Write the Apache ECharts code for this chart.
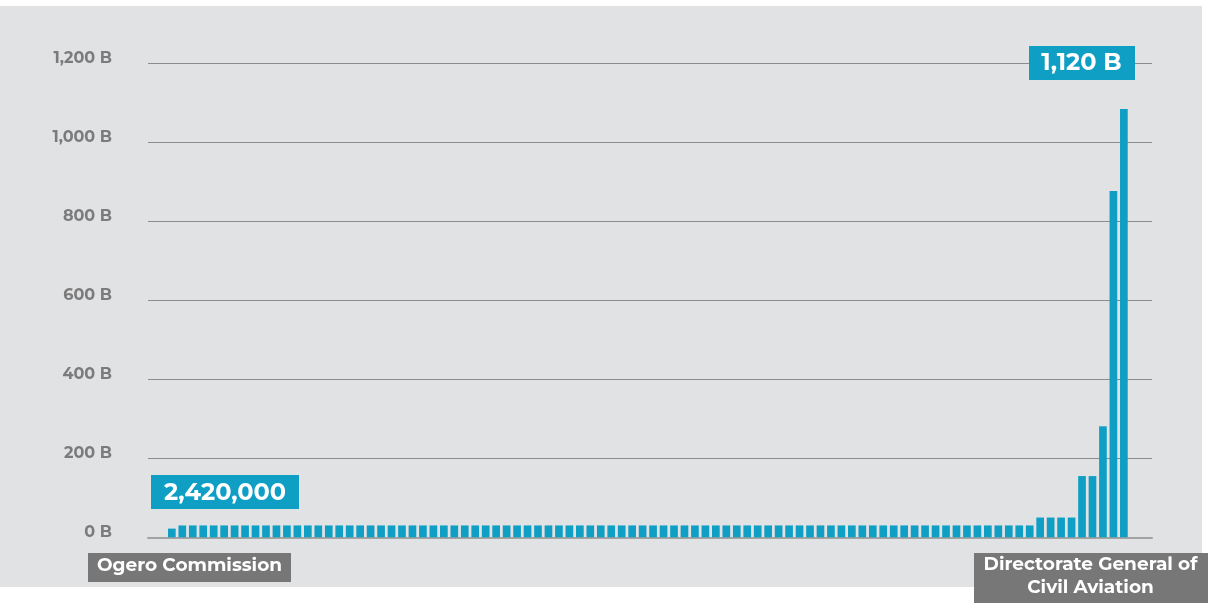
<!DOCTYPE html>
<html><head><meta charset="utf-8">
<script src="https://cdn.jsdelivr.net/npm/echarts@6/dist/echarts.min.js"></script>
<style>
html,body{margin:0;padding:0;background:#ffffff;}
#bg{position:absolute;left:0;top:6px;width:1202px;height:581px;background:#e1e2e4;}
#chart{position:absolute;left:0;top:0;width:1208px;height:603px;}
</style></head>
<body><div id="bg"></div><div id="chart"></div>
<script>
// ---- data ----
const firstEntity = 'Ogero Commission';
const lastEntity = 'Directorate General of\nCivil Aviation';
const barValues = [
  22,
  30, 30, 30, 30, 30, 30, 30, 30, 30, 30,
  30, 30, 30, 30, 30, 30, 30, 30, 30, 30,
  30, 30, 30, 30, 30, 30, 30, 30, 30, 30,
  30, 30, 30, 30, 30, 30, 30, 30, 30, 30,
  30, 30, 30, 30, 30, 30, 30, 30, 30, 30,
  30, 30, 30, 30, 30, 30, 30, 30, 30, 30,
  30, 30, 30, 30, 30, 30, 30, 30, 30, 30,
  30, 30, 30, 30, 30, 30, 30, 30, 30, 30,
  30, 30,
  50, 50, 50, 50,
  155, 155,
  281, 877, 1084
];
const categories = barValues.map((v, i) =>
  i === 0 ? firstEntity : (i === barValues.length - 1 ? lastEntity.replace('\n', ' ') : String(i + 1)));
const yTicks = [0, 200, 400, 600, 800, 1000, 1200];
const minLabel = '2,420,000';
const maxLabel = '1,120 B';

// ---- chart ----
const FONT = 'Montserrat, Inter, "Open Sans", sans-serif';
const BLUE = '#0f9fc4';
const GREY = '#777777';
const chart = echarts.init(document.getElementById('chart'), null, {renderer: 'canvas'});
const gTop = 63.3, gBottom = 603 - 537.3;
const option = {
  animation: false,
  backgroundColor: 'transparent',
  grid: [
    {left: 148, right: 56, top: gTop, bottom: gBottom},
    {left: 166.6, right: 78.9, top: gTop, bottom: gBottom}
  ],
  xAxis: [
    {gridIndex: 0, type: 'value', min: 0, max: 1, axisLine: {show: true, onZero: false, lineStyle: {color: '#a3a3a3', width: 2}},
     axisTick: {show: false}, axisLabel: {show: false}, splitLine: {show: false}},
    {gridIndex: 1, type: 'category', data: categories, show: false}
  ],
  yAxis: [
    {gridIndex: 0, type: 'value', min: yTicks[0], max: yTicks[yTicks.length - 1], interval: yTicks[1] - yTicks[0],
     axisLine: {show: false}, axisTick: {show: false},
     splitLine: {show: true, lineStyle: {color: '#8c8c8c', width: 1}},
     axisLabel: {margin: 36, color: '#7b7b7b', fontSize: 16, fontWeight: 'bold', fontFamily: FONT,
       verticalAlign: 'bottom', lineHeight: 11,
       formatter: v => v.toLocaleString('en-US') + ' B'}},
    {gridIndex: 1, type: 'value', min: yTicks[0], max: yTicks[yTicks.length - 1], show: false, splitLine: {show: false}}
  ],
  series: [{
    type: 'bar', xAxisIndex: 1, yAxisIndex: 1, data: barValues, barWidth: 7.7,
    itemStyle: {color: BLUE}, z: 5
  }],
  graphic: [
    {type: 'rect', z: 100, shape: {x: 151, y: 475, width: 148, height: 34}, style: {fill: BLUE}},
    {type: 'text', z: 101, x: 225, y: 492.5, style: {text: minLabel, fill: '#fff', font: 'bold 24px ' + FONT, align: 'center', verticalAlign: 'middle'}},
    {type: 'rect', z: 100, shape: {x: 1029, y: 46, width: 106, height: 34}, style: {fill: BLUE}},
    {type: 'text', z: 101, x: 1081.5, y: 63, style: {text: maxLabel, fill: '#fff', font: 'bold 24px ' + FONT, align: 'center', verticalAlign: 'middle'}},
    {type: 'rect', z: 100, shape: {x: 88, y: 553, width: 203, height: 29}, style: {fill: GREY}},
    {type: 'text', z: 101, x: 189.5, y: 566, style: {text: firstEntity, fill: '#fff', font: 'bold 18.5px ' + FONT, align: 'center', verticalAlign: 'middle'}},
    {type: 'rect', z: 100, shape: {x: 974, y: 553, width: 240, height: 55}, style: {fill: GREY}},
    {type: 'text', z: 101, x: 1090.5, y: 576, style: {text: lastEntity, fill: '#fff', font: 'bold 18.5px ' + FONT, align: 'center', verticalAlign: 'middle', lineHeight: 22.5}}
  ]
};
chart.setOption(option);
</script>
</body></html>
